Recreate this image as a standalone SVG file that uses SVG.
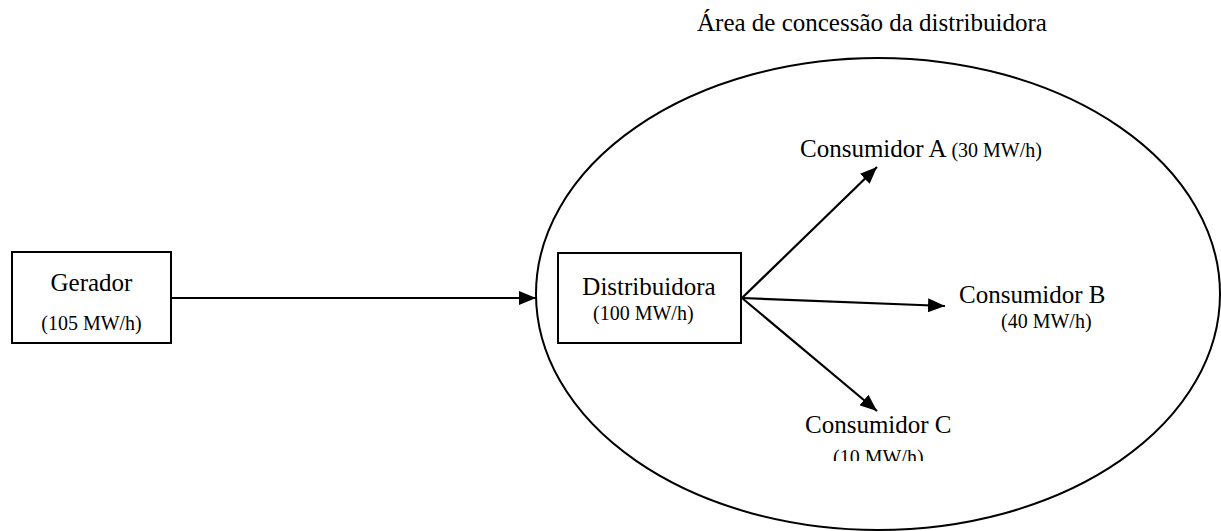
<svg xmlns="http://www.w3.org/2000/svg" width="1221" height="531" viewBox="0 0 1221 531">
  <style>
    .box { fill: #fff; stroke: #000; stroke-width: 2; }
    .area { fill: none; stroke: #000; stroke-width: 2; }
    .link { fill: none; stroke: #000; stroke-width: 2.2; marker-end: url(#head); }
    .big { font-family: "Liberation Serif", "Times New Roman", serif; font-size: 25px; fill: #000; }
    .small { font-family: "Liberation Serif", "Times New Roman", serif; font-size: 20px; fill: #000; }
  </style>
  <defs>
    <marker id="head" markerUnits="userSpaceOnUse" markerWidth="18" markerHeight="14" viewBox="0 0 18 14" refX="17" refY="7" orient="auto">
      <path d="M0,0 L17,7 L0,14 Z" fill="#000"/>
    </marker>
    <clipPath id="cut-c">
      <rect x="780" y="440" width="200" height="21"/>
    </clipPath>
  </defs>

  <rect width="1221" height="531" fill="#fff"/>

  <!-- concession area -->
  <g id="area">
    <ellipse class="area" cx="878" cy="294" rx="342" ry="236"/>
    <text class="big" x="697" y="31">Área de concessão da distribuidora</text>
  </g>

  <!-- connectors -->
  <g id="connectors">
    <line class="link" x1="171" y1="298" x2="536" y2="298"/>
    <line class="link" x1="742" y1="298" x2="877" y2="167"/>
    <line class="link" x1="742" y1="298" x2="945" y2="306"/>
    <line class="link" x1="742" y1="298" x2="877" y2="411"/>
  </g>

  <g id="gerador">
    <rect class="box" x="12" y="252" width="159" height="91"/>
    <text class="big" x="91.5" y="291" text-anchor="middle">Gerador</text>
    <text class="small" x="91.5" y="330" text-anchor="middle">(105 MW/h)</text>
  </g>

  <g id="distribuidora">
    <rect class="box" x="558" y="253" width="183" height="90"/>
    <text class="big" x="649" y="295" text-anchor="middle">Distribuidora</text>
    <text class="small" x="593" y="320">(100 MW/h)</text>
  </g>

  <g id="consumidor-a">
    <text x="800" y="157"><tspan class="big">Consumidor A </tspan><tspan class="small">(30 MW/h)</tspan></text>
  </g>

  <g id="consumidor-b">
    <text class="big" x="959" y="303">Consumidor B</text>
    <text class="small" x="1001" y="328">(40 MW/h)</text>
  </g>

  <g id="consumidor-c">
    <text class="big" x="805" y="433">Consumidor C</text>
    <text class="small" x="833" y="464" clip-path="url(#cut-c)">(10 MW/h)</text>
  </g>
</svg>
